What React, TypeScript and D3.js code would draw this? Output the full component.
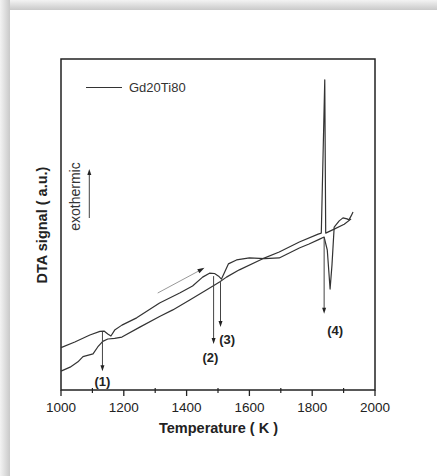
import React from "react";
import * as d3 from "d3";

// ---- data ----
const curveAT = [1000,1044,1092,1124,1137,1149,1159,1171,1194,1241,1314,1378,1419,1451,1473,1489,1502,1511,1521,1533,1559,1600,1648,1695,1727,1759,1790,1822,1838,1848,1857,1863,1870,1886,1898,1911,1917,1924,1930];
const curveAV = [12.8,14.5,16.6,17.7,17.8,16.9,16.3,18.1,19.6,21.8,26.3,29.3,31.4,34.1,35.3,35.2,34.4,33.5,35.6,38.1,39.3,39.9,39.7,39.9,41.4,42.9,44.1,45.5,46.2,42.3,30.5,37.8,49.2,51.1,52.0,51.7,51.4,52.6,53.8];
const curveBT = [1000,1029,1054,1070,1102,1117,1133,1149,1171,1194,1251,1314,1356,1410,1463,1505,1527,1568,1641,1695,1759,1819,1829,1840,1843,1870,1902,1924];
const curveBV = [5.7,6.9,8.5,10.1,10.9,13.0,14.7,15.4,15.6,16.0,19.0,22.2,24.2,27.2,30.2,32.6,34.1,36.3,39.6,41.7,44.7,47.1,47.4,93.7,47.4,48.6,50.1,51.7];

const markerT = [1132, 1486, 1508, 1838];
const markerTop = [17.6, 34.4, 32.6, 46.2];
const markerTip = [5.7, 13.9, 19.0, 23.0];
const markerLabels = ["(1)", "(2)", "(3)", "(4)"];
const labelT = [1132, 1476, 1529, 1873];
const labelV = [1.2, 8.5, 13.9, 16.6];

const dirArrowT = [1308, 1457];
const dirArrowV = [29.3, 36.9];

const xTicks = [1000, 1200, 1400, 1600, 1800, 2000];
const xMinor = [1100, 1300, 1500, 1700, 1900];
const legendLabel = "Gd20Ti80";

const W = 437, H = 476;
const PL = 61, PR = 375, PT = 59, PB = 390;
const FONT = "'Liberation Sans', Arial, sans-serif";

export default function App() {
  const x = d3.scaleLinear().domain([1000, 2000]).range([PL, PR]);
  const y = d3.scaleLinear().domain([0, 100]).range([PB, PT]);
  const line = d3.line<[number, number]>().x(d => x(d[0])).y(d => y(d[1]));
  const a: [number, number][] = curveAT.map((t, i) => [t, curveAV[i]]);
  const b: [number, number][] = curveBT.map((t, i) => [t, curveBV[i]]);

  const head = (tx: number, ty: number, dx: number, dy: number, len = 6, w = 2.2) => {
    const L = Math.hypot(dx, dy);
    const ux = dx / L, uy = dy / L;
    const bx = tx - ux * len, by = ty - uy * len;
    return `M${tx},${ty}L${bx - uy * w},${by + ux * w}L${bx + uy * w},${by - ux * w}Z`;
  };

  const dx0 = x(dirArrowT[0]), dy0 = y(dirArrowV[0]), dx1 = x(dirArrowT[1]), dy1 = y(dirArrowV[1]);

  return (
    <svg width={W} height={H} style={{ position: "absolute", left: 0, top: 0, display: "block" }} fontFamily={FONT}>
      <defs>
        <linearGradient id="gt" x1="0" y1="0" x2="0" y2="1">
          <stop offset="0" stopColor="#f3f3f3" />
          <stop offset="1" stopColor="#c9c9c9" />
        </linearGradient>
        <linearGradient id="gl" x1="0" y1="0" x2="1" y2="0">
          <stop offset="0" stopColor="#f3f3f3" />
          <stop offset="1" stopColor="#c9c9c9" />
        </linearGradient>
      </defs>
      <rect x={0} y={0} width={W} height={H} fill="#fff" />
      <rect x={0} y={0} width={W} height={10} fill="url(#gt)" />
      <rect x={0} y={0} width={10} height={H} fill="url(#gl)" />
      <rect x={10} y={10} width={W - 10} height={H - 10} fill="#fff" />

      {/* frame */}
      <rect x={PL} y={PT} width={PR - PL} height={PB - PT} fill="none" stroke="#222" strokeWidth={1.5} />
      {xTicks.map(t => (
        <g key={t}>
          <line x1={x(t)} x2={x(t)} y1={PB} y2={PB + 6} stroke="#222" strokeWidth={1.3} />
          <text x={x(t)} y={412} textAnchor="middle" fontSize={13.5} fill="#222">{t}</text>
        </g>
      ))}
      {xMinor.map(t => (
        <line key={t} x1={x(t)} x2={x(t)} y1={PB - 2} y2={PB + 3} stroke="#222" strokeWidth={1.2} />
      ))}
      <text x={218.5} y={433} textAnchor="middle" fontSize={14.5} fontWeight="bold" fill="#222">Temperature ( K )</text>
      <text transform={`translate(47,225) rotate(-90)`} textAnchor="middle" fontSize={14.5} fontWeight="bold" fill="#222">DTA signal ( a.u.)</text>

      {/* legend */}
      <line x1={86} x2={122} y1={87.5} y2={87.5} stroke="#333" strokeWidth={1.2} />
      <text x={129} y={92} fontSize={13} fill="#333">{legendLabel}</text>

      {/* exothermic */}
      <text transform={`translate(80,196.5) rotate(-90)`} textAnchor="middle" fontSize={14} fill="#333">exothermic</text>
      <line x1={89.3} x2={89.3} y1={218} y2={174} stroke="#444" strokeWidth={1} />
      <path d={head(89.3, 169, 0, -1, 6, 2)} fill="#222" />

      {/* curves */}
      <path d={line(b) || ""} fill="none" stroke="#333" strokeWidth={1.2} strokeLinejoin="round" />
      <path d={line(a) || ""} fill="none" stroke="#333" strokeWidth={1.2} strokeLinejoin="round" />

      {/* direction arrow */}
      <line x1={dx0} y1={dy0} x2={dx1 - (dx1 - dx0) * 0.1} y2={dy1 - (dy1 - dy0) * 0.1} stroke="#999" strokeWidth={1} />
      <path d={head(dx1, dy1, dx1 - dx0, dy1 - dy0, 7, 2.3)} fill="#222" />

      {/* markers */}
      {markerT.map((t, i) => (
        <g key={t}>
          <line x1={x(t)} x2={x(t)} y1={y(markerTop[i])} y2={y(markerTip[i]) - 5} stroke="#444" strokeWidth={1} />
          <path d={head(x(t), y(markerTip[i]), 0, 1, 6, 2)} fill="#222" />
          <text x={x(labelT[i])} y={y(labelV[i])} textAnchor="middle" fontSize={13} fontWeight="bold" fill="#222">{markerLabels[i]}</text>
        </g>
      ))}
    </svg>
  );
}
